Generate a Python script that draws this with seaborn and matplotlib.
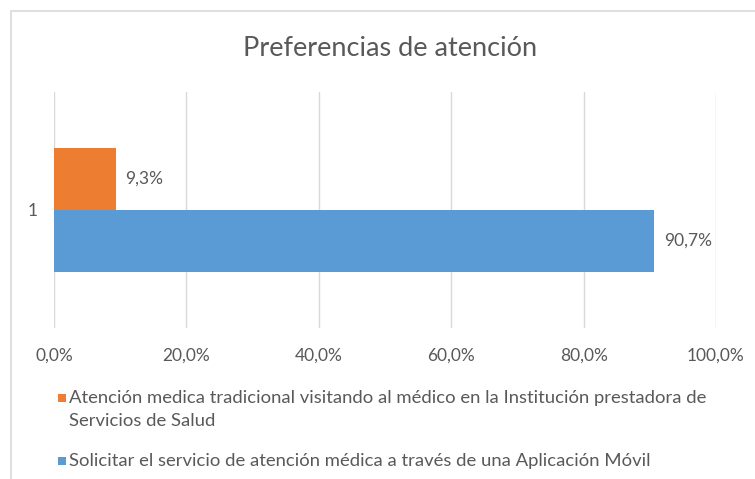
import matplotlib
matplotlib.use("Agg")
import matplotlib.pyplot as plt
from matplotlib.patches import Rectangle
from matplotlib.ticker import FuncFormatter
import seaborn as sns
import pandas as pd

# Data
categories = ["1"]
series_names = [
    "Atención medica tradicional visitando al médico en la Institución prestadora de\nServicios de Salud",
    "Solicitar el servicio de atención médica a través de una Aplicación Móvil",
]
series_values = [9.3, 90.7]
series_colors = ["#ED7D31", "#5B9BD5"]
x_ticks = [0, 20, 40, 60, 80, 100]
title = "Preferencias de atención"

sns.set_theme(style="white")
plt.rcParams["font.family"] = ["Lato", "DejaVu Sans"]
text_color = "#595959"
grid_color = "#D9D9D9"

df = pd.DataFrame({
    "categoria": categories * len(series_names),
    "serie": series_names,
    "valor": series_values,
})

fig = plt.figure(figsize=(7.55, 4.79), dpi=100)
ax = fig.add_axes([54 / 755, 1 - 328 / 479, (716 - 54) / 755, (328 - 92) / 479])

sns.barplot(data=df, x="valor", y="categoria", hue="serie", hue_order=series_names,
            palette=series_colors, orient="h", width=0.526, saturation=1,
            legend=False, ax=ax, linewidth=0)

ax.set_xlim(0, 100)
ax.set_ylim(0.5, -0.5)
ax.set_xticks(x_ticks)
ax.xaxis.set_major_formatter(FuncFormatter(lambda v, p: f"{v:.1f}%".replace(".", ",")))
ax.tick_params(axis="both", length=0, labelsize=12.5, colors=text_color)
ax.tick_params(axis="x", pad=14)
ax.tick_params(axis="y", pad=12)
ax.grid(axis="x", color=grid_color, linewidth=1)
ax.set_axisbelow(True)
for s in ax.spines.values():
    s.set_visible(False)
ax.set_xlabel("")
ax.set_ylabel("")

for container in ax.containers:
    labels = [f"{v:.1f}%".replace(".", ",") for v in container.datavalues]
    ax.bar_label(container, labels=labels, padding=7, fontsize=12.5, color=text_color)

fig.text(390 / 755, 1 - 48 / 479, title, ha="center", va="center",
         fontsize=19.5, color=text_color)

# Chart frame
fig.add_artist(Rectangle((11 / 755, -0.1), 1.0, 0.1 + 1 - 11 / 479,
                         transform=fig.transFigure, fill=False,
                         edgecolor=grid_color, linewidth=1.2))

# Legend entries
legend_rows = [398, 461]
for name, color, yy in zip(series_names, series_colors, legend_rows):
    fig.add_artist(Rectangle((58 / 755, 1 - (yy + 4) / 479), 8 / 755, 8 / 479,
                             transform=fig.transFigure, facecolor=color,
                             edgecolor="none"))
    fig.text(69 / 755, 1 - (yy - 8) / 479, name, ha="left", va="top",
             fontsize=13.3, color=text_color, linespacing=1.5)

fig.savefig("out.png", dpi=100)
